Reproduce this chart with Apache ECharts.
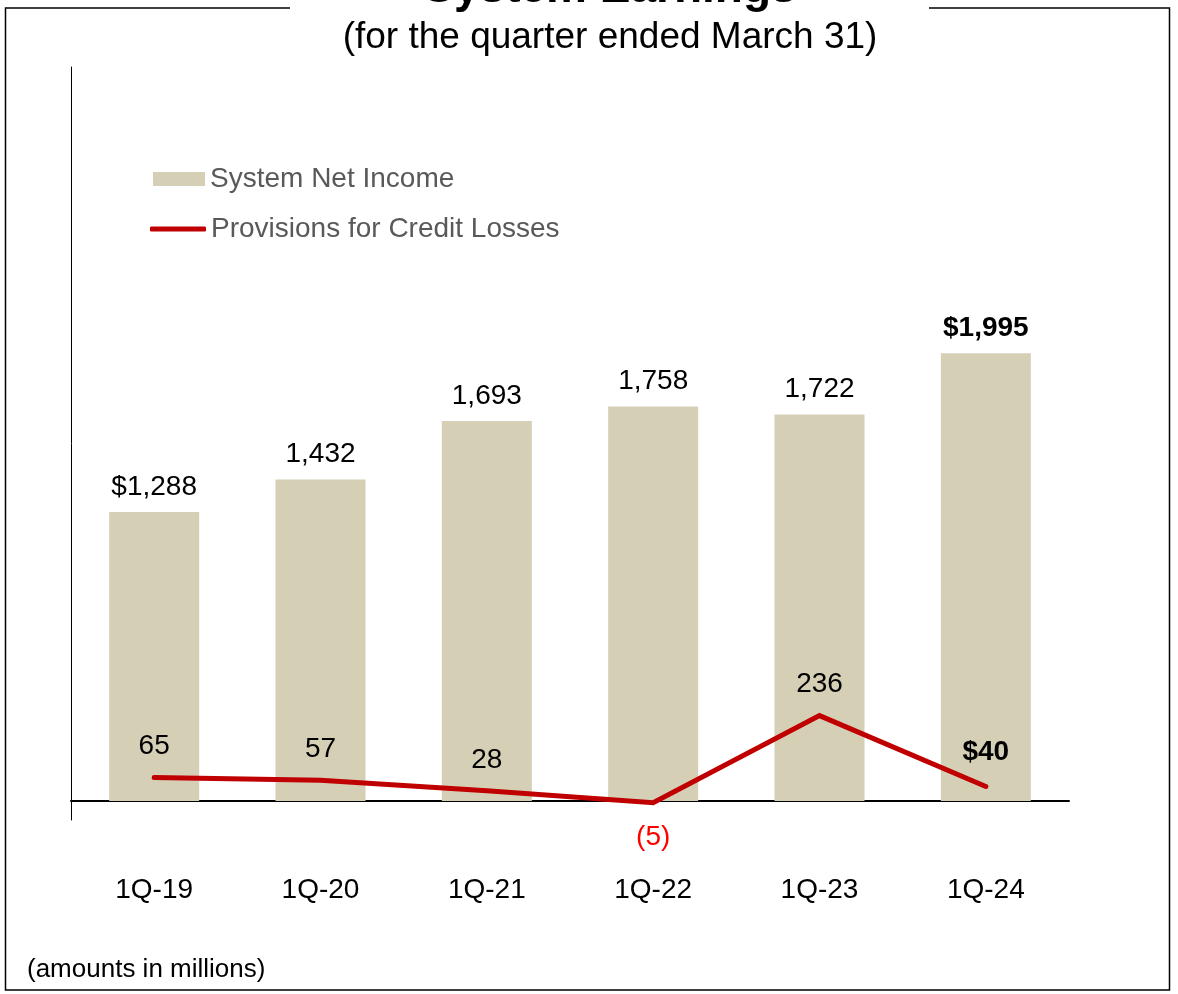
<!DOCTYPE html>
<html>
<head>
<meta charset="utf-8">
<script src="https://cdn.jsdelivr.net/npm/echarts@6/dist/echarts.min.js"></script>
<style>
html,body{margin:0;padding:0;background:#fff;}
#c{width:1178px;height:994px;}
</style>
</head>
<body>
<div id="c"></div>
<script>
var categories = ['1Q-19','1Q-20','1Q-21','1Q-22','1Q-23','1Q-24'];
var netIncome = [1288, 1432, 1693, 1758, 1722, 1995];
var netIncomeLabels = ['$1,288','1,432','1,693','1,758','1,722','$1,995'];
var provisions = [65, 57, 28, -5, 236, 40];
var provisionLabels = ['65','57','28','(5)','236','$40'];

var FONT = "'Liberation Sans', Arial, sans-serif";

var barData = netIncome.map(function(v, i){
  var item = {value: v, label: {formatter: netIncomeLabels[i]}};
  if (i === netIncome.length - 1) item.label.fontWeight = 'bold';
  return item;
});
var lineData = provisions.map(function(v, i){
  var item = {value: v, label: {formatter: provisionLabels[i]}};
  if (v < 0) { item.label.position = 'bottom'; item.label.color = '#ff0000'; item.label.distance = 20; }
  if (i === provisions.length - 1) { item.label.fontWeight = 'bold'; item.label.distance = 20; }
  return item;
});

var chart = echarts.init(document.getElementById('c'), null, {renderer: 'canvas'});
chart.setOption({
  backgroundColor: '#ffffff',
  animation: false,
  textStyle: {fontFamily: FONT},
  grid: {left: 71, right: 109, top: 67, bottom: 174, containLabel: false},
  legend: [
    {data: ['System Net Income'], left: 148, top: 160, orient: 'vertical',
     icon: 'rect', itemWidth: 52, itemHeight: 14,
     textStyle: {fontSize: 28, color: '#595959', fontFamily: FONT}},
    {data: ['Provisions for Credit Losses'], left: 145, top: 210, orient: 'vertical',
     icon: 'roundRect', itemWidth: 56, itemHeight: 5,
     textStyle: {fontSize: 28, color: '#595959', fontFamily: FONT}}
  ],
  xAxis: {
    type: 'category', data: categories,
    axisLine: {onZero: true, lineStyle: {color: '#000', width: 2}},
    axisTick: {show: false},
    axisLabel: {fontSize: 28, color: '#000', margin: 56, fontFamily: FONT}
  },
  yAxis: [
    {type: 'value', min: -85, max: 3271, splitLine: {show: false},
     axisLine: {show: true, onZero: false, lineStyle: {color: '#000', width: 1}},
     axisTick: {show: false}, axisLabel: {show: false}},
    {type: 'value', min: -52.5, max: 2028, splitLine: {show: false},
     axisLine: {show: false}, axisTick: {show: false}, axisLabel: {show: false}}
  ],
  series: [
    {name: 'System Net Income', type: 'bar', yAxisIndex: 0, barWidth: 90,
     itemStyle: {color: '#d5cfb6'}, data: barData,
     label: {show: true, position: 'top', distance: 11, fontSize: 28, color: '#000', fontFamily: FONT}},
    {name: 'Provisions for Credit Losses', type: 'line', yAxisIndex: 1,
     color: '#c00000', showSymbol: true, symbol: 'circle', symbolSize: 0.1,
     lineStyle: {color: '#c00000', width: 5, cap: 'round', join: 'miter'},
     itemStyle: {color: '#c00000'},
     data: lineData,
     label: {show: true, position: 'top', distance: 17, fontSize: 28, color: '#000', fontFamily: FONT}}
  ],
  graphic: [
    {type: 'rect', z: 0, silent: true, shape: {x: 5.5, y: 8, width: 1164, height: 982},
     style: {fill: null, stroke: '#000', lineWidth: 1.5}},
    {type: 'rect', z: 1, silent: true, shape: {x: 290, y: 0, width: 639, height: 20},
     style: {fill: '#fff', stroke: null}},
    {type: 'text', z: 2, silent: true, x: 610, y: 12,
     style: {text: 'System Earnings', font: 'bold 46px ' + FONT, fill: '#000',
             textAlign: 'center', textVerticalAlign: 'bottom'}},
    {type: 'text', z: 2, silent: true, x: 610, y: 38,
     style: {text: '(for the quarter ended March 31)', font: '37px ' + FONT, fill: '#000',
             textAlign: 'center', textVerticalAlign: 'middle'}},
    {type: 'text', z: 2, silent: true, x: 27, y: 970,
     style: {text: '(amounts in millions)', font: '26px ' + FONT, fill: '#000',
             textAlign: 'left', textVerticalAlign: 'middle'}}
  ]
});
</script>
</body>
</html>
